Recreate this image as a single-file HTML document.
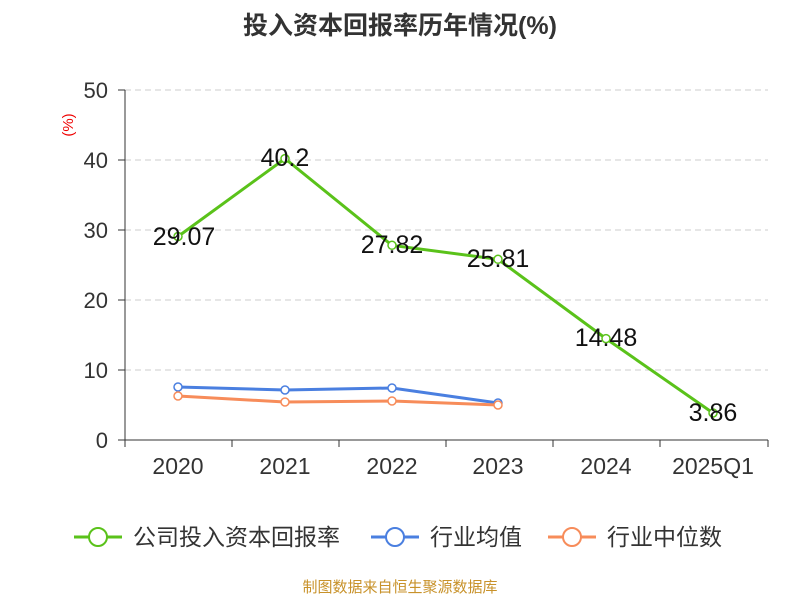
<!DOCTYPE html>
<html><head><meta charset="utf-8"><style>
body{margin:0;background:#fff;}
svg text{font-family:"Liberation Sans","Noto Sans CJK SC",sans-serif;}
</style></head><body>
<svg width="800" height="600" xmlns="http://www.w3.org/2000/svg">
<text x="400" y="34" text-anchor="middle" font-size="25" font-weight="bold" fill="#333">投入资本回报率历年情况(%)</text>
<text x="68" y="125" font-size="15" fill="#e00" transform="rotate(-90 68 125)" text-anchor="middle" dy="5">(%)</text>
<g stroke="#ccc" stroke-dasharray="6,4" stroke-width="1">
<line x1="125" y1="90" x2="768" y2="90"/><line x1="125" y1="160" x2="768" y2="160"/>
<line x1="125" y1="230" x2="768" y2="230"/><line x1="125" y1="300" x2="768" y2="300"/>
<line x1="125" y1="370" x2="768" y2="370"/>
</g>
<g stroke="#333" stroke-width="1">
<line x1="125" y1="90" x2="125" y2="440"/><line x1="125" y1="440" x2="768" y2="440"/>
<line x1="118" y1="90" x2="125" y2="90"/><line x1="118" y1="160" x2="125" y2="160"/><line x1="118" y1="230" x2="125" y2="230"/><line x1="118" y1="300" x2="125" y2="300"/><line x1="118" y1="370" x2="125" y2="370"/><line x1="118" y1="440" x2="125" y2="440"/>
<line x1="125" y1="440" x2="125" y2="447"/><line x1="232" y1="440" x2="232" y2="447"/><line x1="339" y1="440" x2="339" y2="447"/><line x1="446" y1="440" x2="446" y2="447"/><line x1="553" y1="440" x2="553" y2="447"/><line x1="660" y1="440" x2="660" y2="447"/><line x1="768" y1="440" x2="768" y2="447"/>
</g>
<g font-size="22" fill="#333" text-anchor="end">
<text x="108" y="98">50</text><text x="108" y="168">40</text><text x="108" y="238">30</text><text x="108" y="308">20</text><text x="108" y="378">10</text><text x="108" y="448">0</text>
</g>
<g font-size="23" fill="#333" text-anchor="middle">
<text x="178" y="474">2020</text><text x="285" y="474">2021</text><text x="392" y="474">2022</text><text x="498" y="474">2023</text><text x="606" y="474">2024</text><text x="713" y="474">2025Q1</text>
</g>
<polyline points="178,387 285,390 392,388 498,403" fill="none" stroke="#4a7fe0" stroke-width="3"/>
<polyline points="178,396 285,402 392,401 498,405" fill="none" stroke="#f78c5a" stroke-width="3"/>
<polyline points="178,236.5 285,158.6 392,245.3 498,259.3 606,338.6 713,413" fill="none" stroke="#5ac21a" stroke-width="3"/>
<g fill="#fff" stroke-width="1.5">
<g stroke="#4a7fe0"><circle cx="178" cy="387" r="4"/><circle cx="285" cy="390" r="4"/><circle cx="392" cy="388" r="4"/><circle cx="498" cy="403" r="4"/></g>
<g stroke="#f78c5a"><circle cx="178" cy="396" r="4"/><circle cx="285" cy="402" r="4"/><circle cx="392" cy="401" r="4"/><circle cx="498" cy="405" r="4"/></g>
<g stroke="#5ac21a"><circle cx="178" cy="236.5" r="4"/><circle cx="285" cy="158.6" r="4"/><circle cx="392" cy="245.3" r="4"/><circle cx="498" cy="259.3" r="4"/><circle cx="606" cy="338.6" r="4"/><circle cx="713" cy="413" r="4"/></g>
</g>
<g font-size="25" fill="#111" text-anchor="middle">
<text x="184" y="245">29.07</text><text x="285" y="166">40.2</text><text x="392" y="253">27.82</text><text x="498" y="267">25.81</text><text x="606" y="346">14.48</text><text x="713" y="421">3.86</text>
</g>
<g font-size="23" fill="#333">
<line x1="74" y1="537" x2="122" y2="537" stroke="#5ac21a" stroke-width="3"/><circle cx="98" cy="537" r="9" fill="#fff" stroke="#5ac21a" stroke-width="2"/>
<text x="133" y="545">公司投入资本回报率</text>
<line x1="371" y1="537" x2="419" y2="537" stroke="#4a7fe0" stroke-width="3"/><circle cx="395" cy="537" r="9" fill="#fff" stroke="#4a7fe0" stroke-width="2"/>
<text x="430" y="545">行业均值</text>
<line x1="548" y1="537" x2="596" y2="537" stroke="#f78c5a" stroke-width="3"/><circle cx="572" cy="537" r="9" fill="#fff" stroke="#f78c5a" stroke-width="2"/>
<text x="607" y="545">行业中位数</text>
</g>
<text x="400" y="592" text-anchor="middle" font-size="15" fill="#c8922a">制图数据来自恒生聚源数据库</text>
</svg>
</body></html>
